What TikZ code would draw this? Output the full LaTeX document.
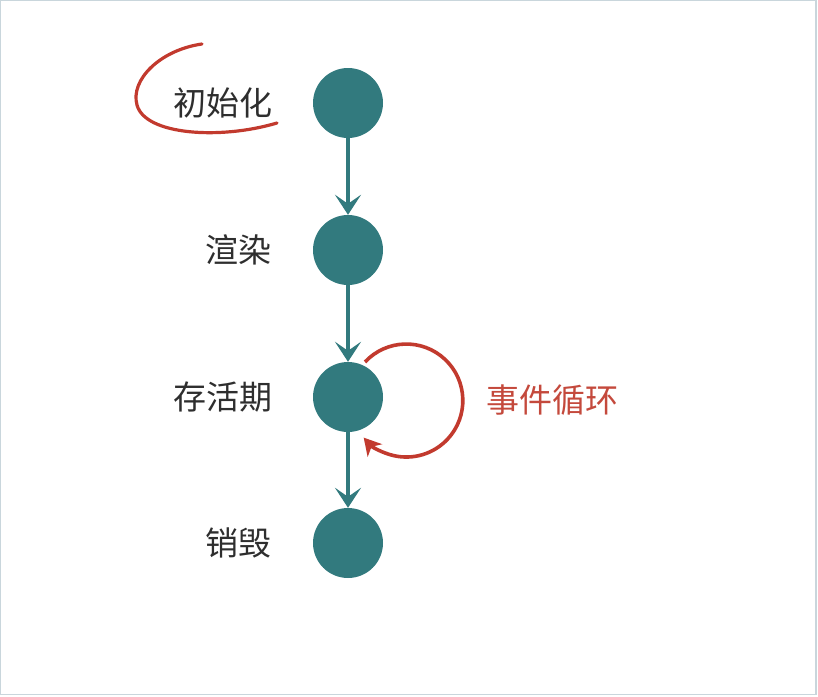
\documentclass[tikz,border=0pt]{standalone}
\usepackage{fontspec}
\setmainfont{Noto Sans CJK SC}
\usetikzlibrary{arrows.meta}
\definecolor{teal1}{HTML}{327A7E}
\definecolor{redl}{HTML}{C23A2E}
\definecolor{redt}{HTML}{C4493C}
\definecolor{txt}{HTML}{2E2E2E}
\definecolor{frame}{HTML}{C9D6DC}
\tikzset{
  dot/.style={circle, fill=teal1, minimum size=70pt, inner sep=0pt},
  lbl/.style={anchor=east, inner sep=0pt, text=txt, font=\fontsize{33}{40}\selectfont},
  rlbl/.style={anchor=west, inner sep=0pt, text=redt, font=\fontsize{33}{40}\selectfont},
  tarrow/.style={draw=teal1, line width=3.8pt, -{Stealth[length=20pt,width=26pt,inset=9pt]}},
  rarrow/.style={draw=redl, line width=3.6pt, -{Stealth[length=17pt,width=19pt,inset=5pt]}},
  mark1/.style={draw=redl, line width=3.2pt, line cap=round}
}
\begin{document}
\begin{tikzpicture}[x=1pt,y=-1pt]
\useasboundingbox (0,0) rectangle (818,696);
\draw[frame, line width=1.2pt] (0.6,0.6) rectangle (816,694.5);
\node[dot] (n1) at (348,103) {};
\node[dot] (n2) at (348,250) {};
\node[dot] (n3) at (348,397) {};
\node[dot] (n4) at (348,543) {};
\node[lbl] (l1) at (273,103) {初始化};
\node[lbl] (l2) at (272,250) {渲染};
\node[lbl] (l3) at (273,397) {存活期};
\node[lbl] (l4) at (272,543) {销毁};
\node[rlbl] (ev) at (486,400) {事件循环};
\draw[tarrow] (n1) -- (n2);
\draw[tarrow] (n2) -- (n3);
\draw[tarrow] (n3) -- (n4);
\coordinate (ls) at (365,362);
\draw[rarrow] (ls) arc[start angle=-137, end angle=139, radius=56.5];
\coordinate (m1) at (202,44);
\coordinate (m2) at (137,105);
\coordinate (m3) at (277,123);
\draw[mark1] (m1) .. controls (160,50) and (130,80) .. (m2) .. controls (145,135) and (220,140) .. (m3);
\end{tikzpicture}
\end{document}
